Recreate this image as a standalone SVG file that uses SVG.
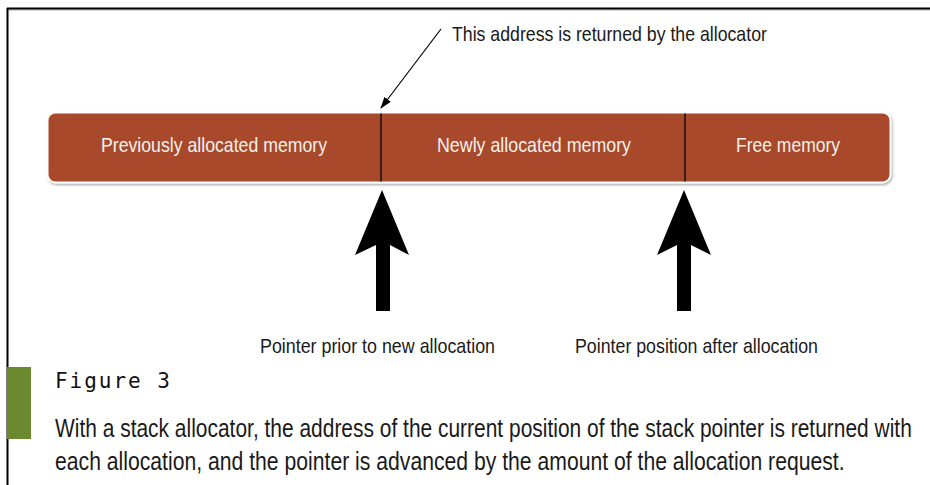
<svg xmlns="http://www.w3.org/2000/svg" width="930" height="485" viewBox="0 0 930 485">
  <defs>
    <style>
      .lbl { font-family: "Liberation Sans", Arial, sans-serif; fill: #1a1a1a; }
      .seg { font-family: "Liberation Sans", Arial, sans-serif; fill: #f4f1ee; font-size: 21px; text-anchor: middle; }
      .mono { font-family: "DejaVu Sans Mono", "Liberation Mono", monospace; fill: #111; }
      .divider { stroke: #111; stroke-width: 1.5; }
      .big-arrow { fill: #000; }
    </style>
    <marker id="tip" viewBox="0 0 12 8" refX="11" refY="4" markerWidth="12" markerHeight="8" markerUnits="userSpaceOnUse" orient="auto">
      <path d="M0,0 L12,4 L0,8 Z" fill="#000"/>
    </marker>
    <filter id="soft" x="-5%" y="-20%" width="110%" height="140%">
      <feDropShadow dx="1" dy="1.5" stdDeviation="1.2" flood-color="#000" flood-opacity="0.35"/>
    </filter>
  </defs>

  <rect width="930" height="485" fill="#fff"/>

  <!-- page frame -->
  <g id="frame">
    <line x1="7" y1="10" x2="930" y2="10" stroke="#aaa" stroke-width="1"/>
    <line x1="7" y1="8.5" x2="930" y2="8.5" stroke="#000" stroke-width="2"/>
    <line x1="7.5" y1="8" x2="7.5" y2="485" stroke="#000" stroke-width="2"/>
  </g>

  <!-- memory bar; labels use a narrowed face (horizontal scale 0.82) -->
  <g id="memory-bar">
    <rect x="47.5" y="112.5" width="843" height="70" rx="8" fill="#a7492a" stroke="#fff" stroke-width="2" filter="url(#soft)"/>
    <line class="divider" x1="381" y1="113.5" x2="381" y2="181.5"/>
    <line class="divider" x1="685" y1="113.5" x2="685" y2="181.5"/>
  </g>
  <g id="seg-previous" transform="translate(214,152) scale(0.82,1)">
    <text class="seg" x="0" y="0" textLength="275.6" lengthAdjust="spacingAndGlyphs">Previously allocated memory</text>
  </g>
  <g id="seg-new" transform="translate(534,152) scale(0.82,1)">
    <text class="seg" x="0" y="0" textLength="236.6" lengthAdjust="spacingAndGlyphs">Newly allocated memory</text>
  </g>
  <g id="seg-free" transform="translate(788,152) scale(0.82,1)">
    <text class="seg" x="0" y="0" textLength="126.8" lengthAdjust="spacingAndGlyphs">Free memory</text>
  </g>

  <!-- annotation -->
  <g id="returned-label" transform="translate(452,41) scale(0.82,1)">
    <text class="lbl" x="0" y="0" font-size="21" textLength="384" lengthAdjust="spacingAndGlyphs">This address is returned by the allocator</text>
  </g>

  <!-- pointers -->
  <g id="pointer-before">
    <path class="big-arrow" d="M382,190 L409,255 L390,245 L390,311 L376,311 L376,245 L355,255 Z"/>
    <text class="lbl" transform="translate(260,353) scale(0.82,1)" x="0" y="0" font-size="21" textLength="286.6" lengthAdjust="spacingAndGlyphs">Pointer prior to new allocation</text>
  </g>
  <g id="pointer-after">
    <path class="big-arrow" d="M684,190 L711,255 L691,245 L691,311 L677,311 L677,245 L657,255 Z"/>
    <text class="lbl" transform="translate(575,353) scale(0.82,1)" x="0" y="0" font-size="21" textLength="296.3" lengthAdjust="spacingAndGlyphs">Pointer position after allocation</text>
  </g>

  <!-- connectors -->
  <g id="connectors">
    <line x1="441" y1="29" x2="381" y2="108" stroke="#000" stroke-width="1.2" marker-end="url(#tip)"/>
  </g>

  <!-- caption -->
  <g id="caption">
    <rect x="7" y="367" width="24" height="72" fill="#6b8a2f"/>
    <text class="mono" x="55" y="388" font-size="21" textLength="115" lengthAdjust="spacing">Figure 3</text>
    <text class="lbl" transform="translate(55,437) scale(0.8,1)" x="0" y="0" font-size="26" textLength="1071" lengthAdjust="spacingAndGlyphs">With a stack allocator, the address of the current position of the stack pointer is returned with</text>
    <text class="lbl" transform="translate(55,470) scale(0.8,1)" x="0" y="0" font-size="26" textLength="987" lengthAdjust="spacingAndGlyphs">each allocation, and the pointer is advanced by the amount of the allocation request.</text>
  </g>
</svg>
